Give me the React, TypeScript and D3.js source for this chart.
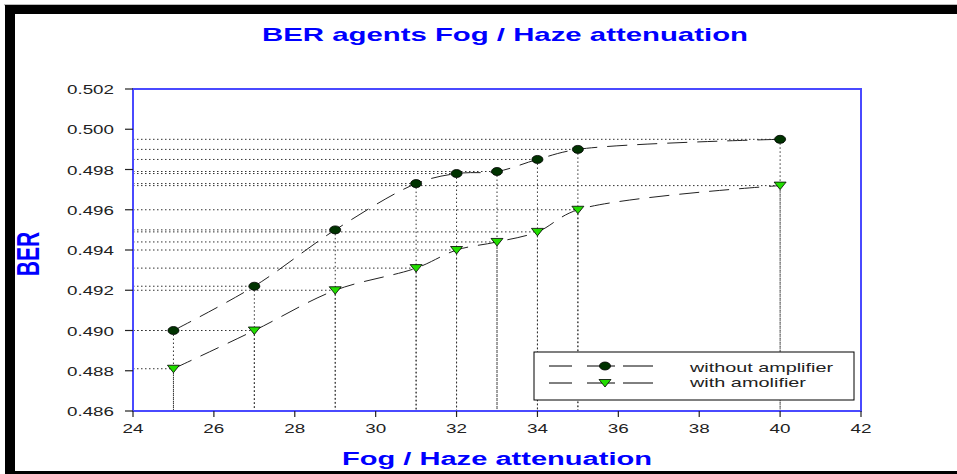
import React from "react";
import * as d3 from "d3";

const xValues = [25, 27, 29, 31, 32, 33, 34, 35, 40];
const withoutAmp = [0.49, 0.4922, 0.495, 0.4973, 0.4978, 0.4979, 0.4985, 0.499, 0.4995];
const withAmp = [0.4881, 0.49, 0.492, 0.4931, 0.494, 0.4944, 0.4949, 0.496, 0.4972];
const xTicks = [24, 26, 28, 30, 32, 34, 36, 38, 40, 42];
const yTicks = [0.486, 0.488, 0.49, 0.492, 0.494, 0.496, 0.498, 0.5, 0.502];
const seriesNames = ["without amplifier", "with amolifier"];
const title = "BER agents Fog / Haze attenuation";
const xTitle = "Fog / Haze attenuation";
const yTitle = "BER";

const W = 957;
const H = 474;
const plot = { l: 133, r: 861, t: 89, b: 411 };
const FONT = "'Liberation Sans', Arial, sans-serif";
const AXIS_BLUE = "#4a4aff";

export default function App() {
  const x = d3.scaleLinear().domain([24, 42]).range([plot.l, plot.r]);
  const y = d3.scaleLinear().domain([0.486, 0.502]).range([plot.b, plot.t]);
  const line = d3
    .line<number>()
    .x((_, i) => x(xValues[i]))
    .y((d) => y(d))
    .curve(d3.curveCatmullRom.alpha(0.5));
  const fmt = d3.format(".3f");

  const tri = (cx: number, cy: number) =>
    `M${cx - 6},${cy - 3.5} L${cx + 6},${cy - 3.5} L${cx},${cy + 4} Z`;

  const series = [withoutAmp, withAmp];

  return (
    <svg
      width={W}
      height={H}
      style={{ position: "absolute", left: 0, top: 0, background: "#fff" }}
    >
      <rect x={0} y={0} width={W} height={H} fill="#fff" />
      {/* frame */}
      <rect x={4} y={4} width={W - 4} height={1.5} fill="#bbb" />
      <rect x={5} y={5} width={W - 5} height={9} fill="#000" />
      <rect x={5} y={5} width={10} height={H - 5} fill="#000" />
      <rect x={5} y={471} width={W - 5} height={3} fill="#000" />

      {/* title */}
      <text
        x={505}
        y={41}
        textAnchor="middle"
        fontFamily={FONT}
        fontWeight="bold"
        fontSize={19}
        fill="#0000ff"
        textLength={486}
        lengthAdjust="spacingAndGlyphs"
      >
        {title}
      </text>

      {/* dotted guide lines */}
      <g stroke="#333" strokeWidth={1} strokeDasharray="1.5,2.5" fill="none">
        {series.map((s, si) =>
          s.map((v, i) => (
            <g key={`g${si}-${i}`}>
              <line x1={plot.l} x2={x(xValues[i])} y1={y(v)} y2={y(v)} />
              <line x1={x(xValues[i])} x2={x(xValues[i])} y1={y(v)} y2={plot.b} />
            </g>
          ))
        )}
      </g>

      {/* data lines */}
      {series.map((s, si) => (
        <path
          key={`l${si}`}
          d={line(s) || ""}
          fill="none"
          stroke="#222"
          strokeWidth={1}
          strokeDasharray="20,10"
        />
      ))}

      {/* markers */}
      {withoutAmp.map((v, i) => (
        <ellipse
          key={`c${i}`}
          cx={x(xValues[i])}
          cy={y(v)}
          rx={5.5}
          ry={4}
          fill="#003300"
          stroke="#000"
          strokeWidth={0.8}
        />
      ))}
      {withAmp.map((v, i) => (
        <path
          key={`t${i}`}
          d={tri(x(xValues[i]), y(v))}
          fill="#22dd00"
          stroke="#000"
          strokeWidth={0.8}
        />
      ))}

      {/* plot frame */}
      <rect
        x={plot.l}
        y={plot.t}
        width={plot.r - plot.l}
        height={plot.b - plot.t}
        fill="none"
        stroke={AXIS_BLUE}
        strokeWidth={2}
      />

      {/* y ticks */}
      {yTicks.map((t) => (
        <g key={`yt${t}`}>
          <line x1={plot.l - 8} x2={plot.l} y1={y(t)} y2={y(t)} stroke="#222" strokeWidth={1.2} />
          <text
            x={114}
            y={y(t) + 5}
            textAnchor="end"
            fontFamily={FONT}
            fontSize={13}
            fill="#222"
            textLength={47}
            lengthAdjust="spacingAndGlyphs"
          >
            {fmt(t)}
          </text>
        </g>
      ))}

      {/* x ticks */}
      {xTicks.map((t) => (
        <g key={`xt${t}`}>
          <line x1={x(t)} x2={x(t)} y1={plot.b} y2={plot.b + 6} stroke="#222" strokeWidth={1.2} />
          <text
            x={x(t)}
            y={433}
            textAnchor="middle"
            fontFamily={FONT}
            fontSize={13}
            fill="#222"
            textLength={21}
            lengthAdjust="spacingAndGlyphs"
          >
            {t}
          </text>
        </g>
      ))}

      {/* axis titles */}
      <text
        x={497}
        y={465}
        textAnchor="middle"
        fontFamily={FONT}
        fontWeight="bold"
        fontSize={18}
        fill="#0000ff"
        textLength={310}
        lengthAdjust="spacingAndGlyphs"
      >
        {xTitle}
      </text>
      <text
        transform={`translate(39,254) scale(1.45,1) rotate(-90)`}
        textAnchor="middle"
        fontFamily={FONT}
        fontWeight="bold"
        fontSize={21}
        fill="#0000ff"
      >
        {yTitle}
      </text>

      {/* legend */}
      <rect x={534} y={352} width={320} height={48} fill="#fff" stroke="#000" strokeWidth={1} />
      {[0, 1].map((i) => {
        const ly = i === 0 ? 366 : 383;
        return (
          <g key={`lg${i}`}>
            <line x1={549} x2={572} y1={ly} y2={ly} stroke="#000" />
            <line x1={587} x2={615} y1={ly} y2={ly} stroke="#000" />
            <line x1={623} x2={653} y1={ly} y2={ly} stroke="#000" />
            {i === 0 ? (
              <ellipse cx={605} cy={ly} rx={5.5} ry={4} fill="#003300" stroke="#000" strokeWidth={0.8} />
            ) : (
              <path d={tri(605, ly)} fill="#22dd00" stroke="#000" strokeWidth={0.8} />
            )}
            <text
              x={690}
              y={i === 0 ? 372 : 387}
              fontFamily={FONT}
              fontSize={13}
              fill="#222"
              textLength={i === 0 ? 143 : 116}
              lengthAdjust="spacingAndGlyphs"
            >
              {seriesNames[i]}
            </text>
          </g>
        );
      })}
    </svg>
  );
}
